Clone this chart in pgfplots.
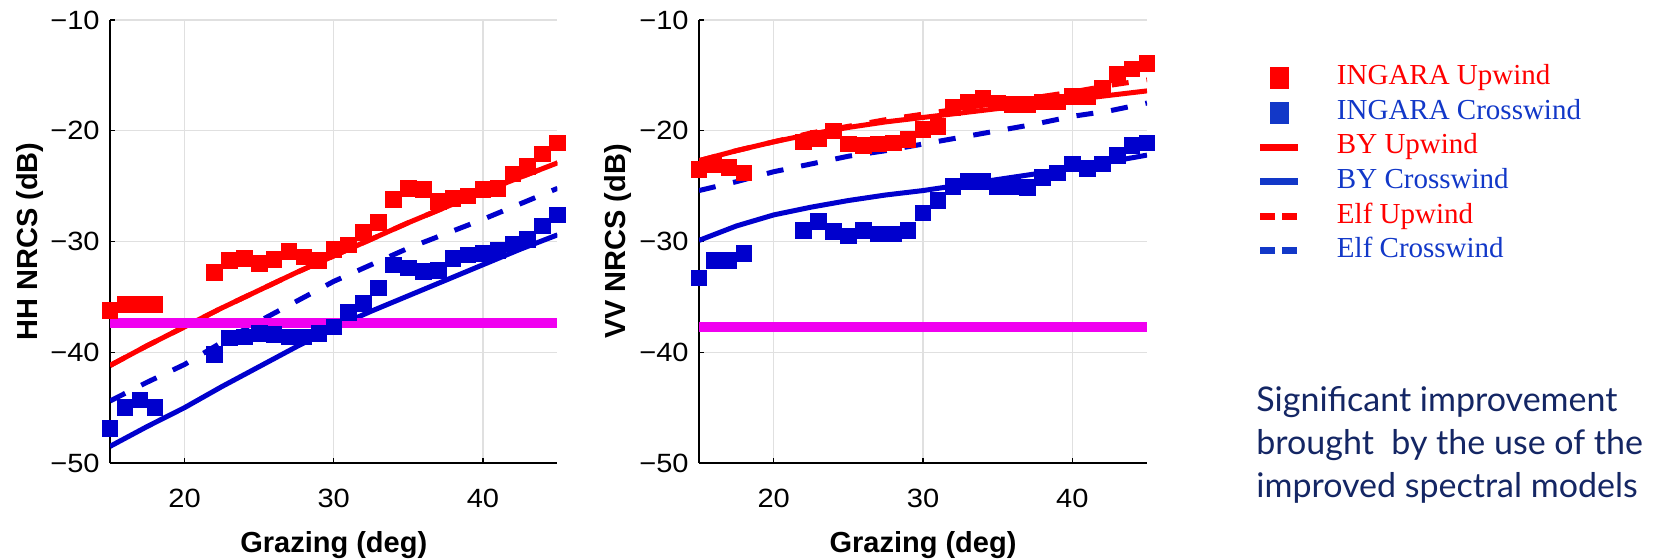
\documentclass[border=0pt]{standalone}
\usepackage{pgfplots}
\pgfplotsset{compat=1.18}
\usepackage{pgfplotstable}
\usepackage{fontspec}
\newfontfamily\plotfont{Liberation Sans}
\newfontfamily\tickfont[FakeStretch=1.1]{Liberation Sans}
\newfontfamily\legfont{Liberation Serif}
\newfontfamily\notefont{Lato}
\definecolor{pred}{RGB}{255,0,0}
\definecolor{pblue}{RGB}{0,0,205}
\definecolor{lred}{RGB}{255,0,0}
\definecolor{lblue}{RGB}{18,56,200}
\definecolor{pmag}{RGB}{240,0,240}
\definecolor{navy}{RGB}{20,38,100}

% HH data
\pgfplotstableread{
x y
15 -36.2
16 -35.7
17 -35.7
18 -35.7
22 -32.8
23 -31.7
24 -31.5
25 -32.0
26 -31.6
27 -30.9
28 -31.4
29 -31.7
30 -30.7
31 -30.3
32 -29.2
33 -28.3
34 -26.2
35 -25.2
36 -25.3
37 -26.4
38 -26.1
39 -25.9
40 -25.3
41 -25.2
42 -23.9
43 -23.2
44 -22.1
45 -21.1
}\hhup
\pgfplotstableread{
x y
15 -46.9
16 -45.0
17 -44.3
18 -45.0
22 -40.2
23 -38.7
24 -38.6
25 -38.3
26 -38.4
27 -38.6
28 -38.6
29 -38.3
30 -37.7
31 -36.4
32 -35.6
33 -34.2
34 -32.1
35 -32.4
36 -32.7
37 -32.6
38 -31.5
39 -31.2
40 -31.1
41 -30.8
42 -30.2
43 -29.8
44 -28.6
45 -27.6
}\hhcross
\pgfplotstableread{
x byup elfup bycross elfcross mag
15   -41.2 -41.2 -48.5 -44.4 -37.4
17.5 -39.4 -39.4 -46.7 -42.7 -37.4
20   -37.7 -37.7 -45.0 -41.1 -37.4
22.5 -36.0 -36.0 -43.1 -39.1 -37.4
25   -34.4 -34.4 -41.3 -37.2 -37.4
27.5 -32.8 -32.8 -39.5 -35.4 -37.4
30   -31.3 -31.3 -37.8 -33.6 -37.4
32.5 -29.8 -29.8 -36.3 -32.1 -37.4
35   -28.3 -28.3 -34.9 -30.6 -37.4
37.5 -26.9 -26.9 -33.5 -29.3 -37.4
40   -25.5 -25.5 -32.1 -28.0 -37.4
42.5 -24.2 -24.2 -30.7 -26.6 -37.4
45   -22.9 -22.9 -29.4 -25.2 -37.4
}\hhlines
% VV data
\pgfplotstableread{
x y
15 -23.5
16 -23.1
17 -23.3
18 -23.8
22 -21.0
23 -20.7
24 -20.0
25 -21.2
26 -21.3
27 -21.2
28 -21.1
29 -20.8
30 -19.9
31 -19.6
32 -17.9
33 -17.4
34 -17.1
35 -17.5
36 -17.6
37 -17.6
38 -17.4
39 -17.4
40 -16.9
41 -16.9
42 -16.2
43 -14.9
44 -14.4
45 -13.9
}\vvup
\pgfplotstableread{
x y
15 -33.3
16 -31.7
17 -31.7
18 -31.1
22 -29.0
23 -28.2
24 -29.1
25 -29.5
26 -29.0
27 -29.3
28 -29.3
29 -29.0
30 -27.4
31 -26.3
32 -25.0
33 -24.6
34 -24.6
35 -25.0
36 -25.0
37 -25.1
38 -24.2
39 -23.8
40 -23.0
41 -23.4
42 -23.0
43 -22.2
44 -21.3
45 -21.1
}\vvcross
\pgfplotstableread{
x byup elfup bycross elfcross mag
15   -22.7 -22.7 -29.9 -25.4 -37.7
17.5 -21.8 -21.8 -28.6 -24.6 -37.7
20   -21.0 -21.0 -27.6 -23.7 -37.7
22.5 -20.3 -20.2 -26.9 -23.0 -37.7
25   -19.7 -19.6 -26.3 -22.3 -37.7
27.5 -19.2 -19.0 -25.8 -21.8 -37.7
30   -18.8 -18.5 -25.4 -21.2 -37.7
32.5 -18.4 -18.0 -24.9 -20.6 -37.7
35   -18.0 -17.5 -24.4 -20.0 -37.7
37.5 -17.6 -17.0 -23.9 -19.4 -37.7
40   -17.2 -16.5 -23.4 -18.7 -37.7
42.5 -16.8 -15.9 -22.8 -18.2 -37.7
45   -16.4 -15.4 -22.2 -17.5 -37.7
}\vvlines

\pgfplotsset{
  nrcs/.style={
    scale only axis, height=221.5pt,
    xmin=15, xmax=45, ymin=-50, ymax=-10,
    axis x line*=bottom, axis y line*=left,
    axis line style={black, line width=0.8pt},
    xtick={20,30,40}, ytick={-50,-40,-30,-20,-10},
    yticklabels={−50,−40,−30,−20,−10},
    xticklabels={20,30,40},
    grid=major, major grid style={black!12, line width=0.6pt},
    tick align=inside, major tick length=2.5pt,
    tick style={black, line width=0.6pt},
    ticklabel style={font=\tickfont\fontsize{13.2}{13.2}\selectfont},
    xticklabel style={inner sep=0pt, yshift=-13pt},
    yticklabel style={inner sep=0pt, xshift=-5pt},
    label style={font=\plotfont\bfseries\fontsize{14.5}{14.5}\selectfont, inner sep=0pt},
    xlabel style={at={(axis description cs:0.5,-0.203)}, anchor=base},
    ylabel style={at={(axis description cs:-0.163,0.5)}, anchor=base},
    xlabel={Grazing (deg)},
  },
  sq/.style={only marks, mark=square*, mark size=3.9pt, mark options={draw=#1, fill=#1}},
  ln/.style={no marks, draw=#1, line width=2.5pt},
  dl/.style={no marks, draw=#1, line width=2.5pt, dash pattern=on 8.5pt off 9pt},
  mg/.style={no marks, draw=pmag, line width=5pt, forget plot},
}

\begin{document}
\begin{tikzpicture}[x=0.5pt,y=0.5pt]
\path[use as bounding box] (0,0) rectangle (1655,558);

\begin{axis}[nrcs, width=223.75pt, at={(55pt,47.5pt)}, anchor=south west,
  ylabel={HH NRCS (dB)}]
\addplot[sq=pred] table[x=x,y=y] {\hhup};
\addplot[sq=pblue] table[x=x,y=y] {\hhcross};
\addplot[ln=pred] table[x=x,y=byup] {\hhlines};
\addplot[dl=pred] table[x=x,y=elfup] {\hhlines};
\addplot[ln=pblue] table[x=x,y=bycross] {\hhlines};
\addplot[dl=pblue] table[x=x,y=elfcross] {\hhlines};
\addplot[mg] table[x=x,y=mag] {\hhlines};
\end{axis}

\begin{axis}[nrcs, width=224pt, at={(349.5pt,47.5pt)}, anchor=south west,
  ylabel={VV NRCS (dB)},
  legend cell align=left,
  legend style={at={(1.2455,0.9083)}, anchor=north west, draw=none, fill=none,
    inner sep=0pt, outer sep=0pt, row sep=0pt, column sep=17.5pt,
    nodes={inner sep=0pt, text height=12pt, text depth=5.3pt,
      font=\legfont\fontsize{14.5}{14.5}\selectfont}}]
\addplot[sq=pred, legend image code/.code={\fill[lred] (5pt,-5.25pt) rectangle (14pt,5.25pt);}]
  table[x=x,y=y] {\vvup};
\addlegendentry{\textcolor{lred}{INGARA Upwind}}
\addplot[sq=pblue, legend image code/.code={\fill[lblue] (5pt,-5.25pt) rectangle (14pt,5.25pt);}]
  table[x=x,y=y] {\vvcross};
\addlegendentry{\textcolor{lblue}{INGARA Crosswind}}
\addplot[ln=pred, legend image code/.code={\draw[lred, solid, line width=3.5pt] (0pt,0pt) -- (19pt,0pt);}]
  table[x=x,y=byup] {\vvlines};
\addlegendentry{\textcolor{lred}{BY Upwind}}
\addplot[ln=pblue, legend image code/.code={\draw[lblue, solid, line width=3.5pt] (0pt,0pt) -- (19pt,0pt);}]
  table[x=x,y=bycross] {\vvlines};
\addlegendentry{\textcolor{lblue}{BY Crosswind}}
\addplot[dl=pred, legend image code/.code={\draw[lred, line width=3.5pt, dash pattern=on 7.5pt off 3.5pt] (0pt,0pt) -- (19pt,0pt);}]
  table[x=x,y=elfup] {\vvlines};
\addlegendentry{\textcolor{lred}{Elf Upwind}}
\addplot[dl=pblue, legend image code/.code={\draw[lblue, line width=3.5pt, dash pattern=on 7.5pt off 3.5pt] (0pt,0pt) -- (19pt,0pt);}]
  table[x=x,y=elfcross] {\vvlines};
\addlegendentry{\textcolor{lblue}{Elf Crosswind}}
\addplot[mg] table[x=x,y=mag] {\vvlines};
\end{axis}

\begin{scope}[every node/.style={anchor=base west, inner sep=0pt, text=navy,
    font=\notefont\fontsize{17}{17}\selectfont}]
\node at (1256,147) {Significant improvement};
\node at (1256,104) {brought~ by the use of the};
\node at (1256,61) {improved spectral models};
\end{scope}
\end{tikzpicture}
\end{document}
